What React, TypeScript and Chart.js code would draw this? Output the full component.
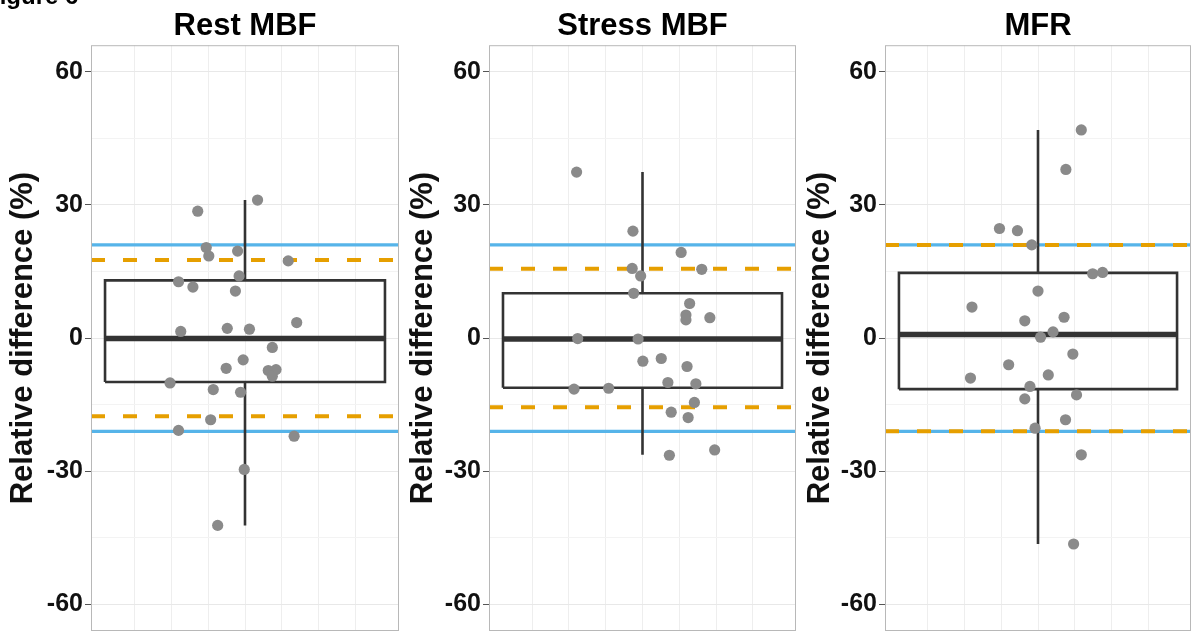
import React, { useEffect, useRef } from 'react';
import { Chart, registerables } from 'chart.js';

Chart.register(...registerables);

// ---------- data ----------
const panelTitles = ['Rest MBF', 'Stress MBF', 'MFR'];
const yAxisTitle = 'Relative difference (%)';
const yGridValues = [-60, -45, -30, -15, 0, 15, 30, 45, 60];
const yLabelValues = [-60, -30, 0, 30, 60];
const xGridValues = [-3, -2, -1, 0, 1, 2, 3];

const restJitter = [0.34, -1.28, -1.05, -0.98, -0.2, 1.17, -0.16, -1.8, -1.41, -0.26, -1.74, -0.48, 0.12, 1.4, 0.74, -0.05, -0.51, 0.63, 0.84, 0.74, -2.03, -0.86, -0.12, -0.93, -1.8, 1.33, -0.02, -0.74];
const restValues = [31.1, 28.6, 20.4, 18.5, 19.6, 17.4, 14.0, 12.7, 11.5, 10.6, 1.5, 2.2, 2.0, 3.5, -2.1, -4.9, -6.8, -7.3, -7.1, -8.6, -10.1, -11.6, -12.2, -18.4, -20.8, -22.1, -29.6, -42.2];
// [lower whisker, Q1, median, Q3, upper whisker]
const restBox = [-42.2, -9.9, -0.1, 13.0, 31.1];

const stressJitter = [-1.79, -0.26, 1.05, -0.28, -0.05, 1.61, -0.24, 1.28, 1.18, 1.18, 1.83, -1.76, -0.12, 0.01, 0.51, 1.21, 0.69, 1.45, -1.86, -0.92, 1.41, 0.78, 1.24, 0.73, 1.96];
const stressValues = [37.4, 24.1, 19.3, 15.7, 14.0, 15.5, 10.1, 7.8, 5.2, 4.1, 4.6, -0.1, -0.2, -5.2, -4.6, -6.4, -10.0, -10.3, -11.5, -11.3, -14.5, -16.7, -17.9, -26.4, -25.2];
const stressBox = [-26.3, -11.2, -0.2, 10.1, 37.4];

const mfrJitter = [1.18, 0.76, -1.05, -0.56, -0.17, 1.49, 1.76, 0.0, -1.8, -0.36, 0.71, 0.41, 0.07, 0.95, -0.8, -1.84, 0.28, -0.22, -0.36, 1.05, 0.75, -0.08, 1.18, 0.97];
const mfrValues = [46.9, 38.0, 24.7, 24.2, 21.0, 14.5, 14.8, 10.6, 7.0, 3.9, 4.7, 1.4, 0.2, -3.6, -6.0, -9.0, -8.3, -10.9, -13.7, -12.8, -18.4, -20.3, -26.3, -46.4];
const mfrBox = [-46.4, -11.5, 0.8, 14.7, 46.9];

// limits (±) per panel: blue solid, orange dashed
const blueLimits = [21, 21, 21];
const orangeLimits = [17.6, 15.6, 21];

// ---------- layout / style ----------
const X_MIN = -4.17;
const X_MAX = 4.17;
const Y_MIN = -66;
const Y_MAX = 66;
const BOX_HALF = 3.79;
const FONT = '"Liberation Sans", Arial, Helvetica, sans-serif';
const DARK = '#333333';
const BLUE = '#56B4E9';
const ORANGE = '#E69F00';
const POINT = '#8a8a8a';

const panels = [
  { title: panelTitles[0], jitter: restJitter, values: restValues, box: restBox, blue: blueLimits[0], orange: orangeLimits[0], left: 0, width: 400, axisW: 91, padR: 1 },
  { title: panelTitles[1], jitter: stressJitter, values: stressValues, box: stressBox, blue: blueLimits[1], orange: orangeLimits[1], left: 400, width: 397, axisW: 89, padR: 1 },
  { title: panelTitles[2], jitter: mfrJitter, values: mfrValues, box: mfrBox, blue: blueLimits[2], orange: orangeLimits[2], left: 797, width: 400, axisW: 88, padR: 6 },
];

const frame = {
  id: 'panelFrame',
  afterDraw(chart: any) {
    const { ctx, chartArea } = chart;
    ctx.save();
    ctx.strokeStyle = '#b8b8b8';
    ctx.lineWidth = 1;
    ctx.strokeRect(chartArea.left + 0.5, chartArea.top + 0.5, chartArea.right - chartArea.left - 1, chartArea.bottom - chartArea.top - 1);
    ctx.restore();
  },
};

const zeroPad = (s: any) => {
  s.paddingTop = 0;
  s.paddingBottom = 0;
  s.paddingLeft = 0;
  s.paddingRight = 0;
};

function Panel({ p }: { p: any }) {
  const ref = useRef<HTMLCanvasElement | null>(null);
  useEffect(() => {
    if (!ref.current) return;
    const [lo, q1, med, q3, hi] = p.box;
    const line = (data: any[], color: string, width: number, dash: number[] = []) => ({
      type: 'line',
      data,
      borderColor: color,
      borderWidth: width,
      borderDash: dash,
      pointRadius: 0,
      fill: false,
      showLine: true,
      tension: 0,
      borderCapStyle: 'butt',
    });
    const datasets: any[] = [
      {
        type: 'scatter',
        data: p.values.map((v: number, i: number) => ({ x: p.jitter[i], y: v })),
        backgroundColor: POINT,
        borderWidth: 0,
        pointRadius: 5.6,
      },
      line([{ x: -BOX_HALF, y: med }, { x: BOX_HALF, y: med }], DARK, 5.5),
      line([{ x: -BOX_HALF, y: q1 }, { x: -BOX_HALF, y: q3 }, { x: BOX_HALF, y: q3 }, { x: BOX_HALF, y: q1 }, { x: -BOX_HALF, y: q1 }], DARK, 2.6),
      line([{ x: 0, y: q3 }, { x: 0, y: hi }], DARK, 2.6),
      line([{ x: 0, y: lo }, { x: 0, y: q1 }], DARK, 2.6),
      line([{ x: X_MIN, y: p.orange }, { x: X_MAX, y: p.orange }], ORANGE, 4, [14, 18]),
      line([{ x: X_MIN, y: -p.orange }, { x: X_MAX, y: -p.orange }], ORANGE, 4, [14, 18]),
      line([{ x: X_MIN, y: p.blue }, { x: X_MAX, y: p.blue }], BLUE, 3.2),
      line([{ x: X_MIN, y: -p.blue }, { x: X_MAX, y: -p.blue }], BLUE, 3.2),
    ];
    const chart = new Chart(ref.current, {
      type: 'scatter',
      data: { datasets },
      plugins: [frame],
      options: {
        animation: false,
        responsive: false,
        devicePixelRatio: 1,
        layout: { autoPadding: false, padding: { top: 0, right: p.padR, bottom: 6, left: 0 } },
        plugins: {
          legend: { display: false },
          tooltip: { enabled: false },
          title: {
            display: true,
            text: p.title,
            fullSize: false,
            color: '#000000',
            font: { family: FONT, size: 31, weight: 'bold', lineHeight: 1.2 },
            padding: { top: 8, bottom: 0 },
          },
        },
        scales: {
          x: {
            type: 'linear',
            min: X_MIN,
            max: X_MAX,
            afterBuildTicks: (s: any) => { s.ticks = xGridValues.map((v) => ({ value: v })); },
            afterFit: (s: any) => { zeroPad(s); s.height = 0; },
            ticks: { display: false },
            grid: { color: '#eeeeee', lineWidth: 1, drawTicks: false },
            border: { display: false },
          },
          y: {
            type: 'linear',
            min: Y_MIN,
            max: Y_MAX,
            afterBuildTicks: (s: any) => { s.ticks = yGridValues.map((v) => ({ value: v })); },
            afterFit: (s: any) => { zeroPad(s); s.width = p.axisW; },
            ticks: {
              callback: (v: any) => (yLabelValues.includes(Number(v)) ? String(v) : ''),
              color: '#111111',
              font: { family: FONT, size: 25, weight: 'bold' },
              padding: 2,
            },
            grid: {
              color: (c: any) => (c.tick && yLabelValues.includes(c.tick.value) ? '#e8e8e8' : '#f3f3f3'),
              lineWidth: 1,
              tickLength: 6,
              tickColor: (c: any) => (c.tick && yLabelValues.includes(c.tick.value) ? '#555555' : 'rgba(0,0,0,0)'),
            },
            border: { display: false },
            title: {
              display: true,
              text: yAxisTitle,
              color: '#111111',
              font: { family: FONT, size: 31, weight: 'bold', lineHeight: 1.2 },
              padding: { top: 5, bottom: 0 },
            },
          },
        },
      } as any,
    });
    return () => chart.destroy();
  }, [p]);
  return (
    <canvas
      ref={ref}
      width={p.width}
      height={637}
      style={{ position: 'absolute', left: p.left, top: 0, width: p.width, height: 637 }}
    />
  );
}

export default function App() {
  return (
    <div style={{ position: 'fixed', left: 0, top: 0, width: 1197, height: 637, background: '#ffffff', overflow: 'hidden' }}>
      {panels.map((p, i) => (
        <Panel key={i} p={p} />
      ))}
      <div
        style={{
          position: 'absolute',
          left: -15,
          top: -18,
          fontFamily: FONT,
          fontWeight: 'bold',
          fontSize: 24,
          lineHeight: '28px',
          color: '#000000',
          whiteSpace: 'nowrap',
        }}
      >
        Figure 6
      </div>
    </div>
  );
}
